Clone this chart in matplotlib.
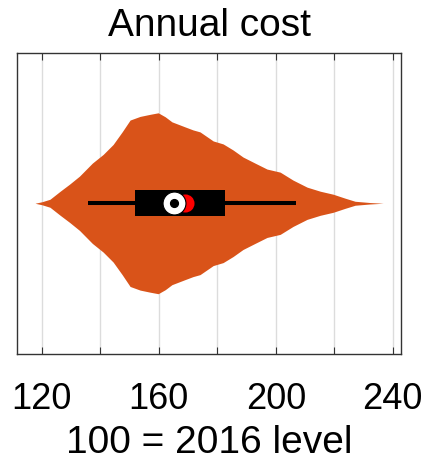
import matplotlib
matplotlib.use("Agg")
import matplotlib.pyplot as plt
import numpy as np

plt.rcParams['font.family'] = ['Liberation Sans', 'DejaVu Sans']

# kernel density outline of annual cost (index, 100 = 2016 level), peak normalised to 1
cost_grid = [117.7, 120.1, 122.8, 126.3, 129.5, 132.9, 137.3, 141.0, 144.4, 147.5,
             150.2, 153.6, 157.0, 159.8, 162.2, 164.5, 169.0, 171.7, 174.1, 178.6,
             182.0, 185.4, 188.8, 192.9, 197.0, 201.5, 205.9, 210.7, 215.2, 219.6,
             223.7, 227.1, 232.2, 236.7]
density = [0, 0.017, 0.044, 0.133, 0.211, 0.30, 0.444, 0.54, 0.65, 0.79,
           0.92, 0.96, 0.983, 1.0, 0.956, 0.90, 0.844, 0.811, 0.789, 0.689,
           0.656, 0.589, 0.511, 0.444, 0.378, 0.344, 0.256, 0.178, 0.133, 0.10,
           0.056, 0.022, 0.008, 0]

# summary statistics
whisker_lo, whisker_hi = 135.9, 206.9
q1, q3 = 151.9, 182.7
median = 165.1
mean = 169.1

tick_values = [120, 140, 160, 180, 200, 220, 240]
tick_labels = ['120', '', '160', '', '200', '', '240']

orange = '#D95319'

fig = plt.figure(figsize=(4.23, 4.63), dpi=100)
ax = fig.add_axes([0.041, 0.2354, 0.907, 0.6512])

grid = np.array(cost_grid)
half = 0.6 * np.array(density)
ax.fill_between(grid, -half, half, color=orange, lw=0, zorder=2)

# whiskers and interquartile box
ax.plot([whisker_lo, whisker_hi], [0, 0], color='k', lw=2.9, solid_capstyle='butt', zorder=3)
ax.fill_between([q1, q3], -0.085, 0.085, color='k', lw=0, zorder=4)

# mean (red) behind median (white ring with black centre)
ax.plot(mean, 0, 'o', ms=13, color='#FF0000', mec='none', zorder=5)
ax.plot(median, 0, 'o', ms=16.5, mfc='white', mec='k', mew=0.8, zorder=6)
ax.plot(median, 0, 'o', ms=5.6, color='k', zorder=7)

ax.set_xlim(111.66, 242.8)
ax.set_ylim(-1, 1)
ax.set_yticks([])
ax.set_xticks(tick_values)
ax.set_xticklabels(tick_labels)
ax.tick_params(axis='x', direction='in', length=5, width=0.8, top=True,
               labelsize=26, pad=20, color='#333333')
ax.grid(axis='x', color='#dcdcdc', lw=1, zorder=0)
ax.set_axisbelow(True)
for s in ax.spines.values():
    s.set_color('#333333')
    s.set_linewidth(1)

ax.set_title('Annual cost', fontsize=28, pad=12)
ax.set_xlabel('100 = 2016 level', fontsize=28, labelpad=6)

fig.savefig('out.png', dpi=100)
